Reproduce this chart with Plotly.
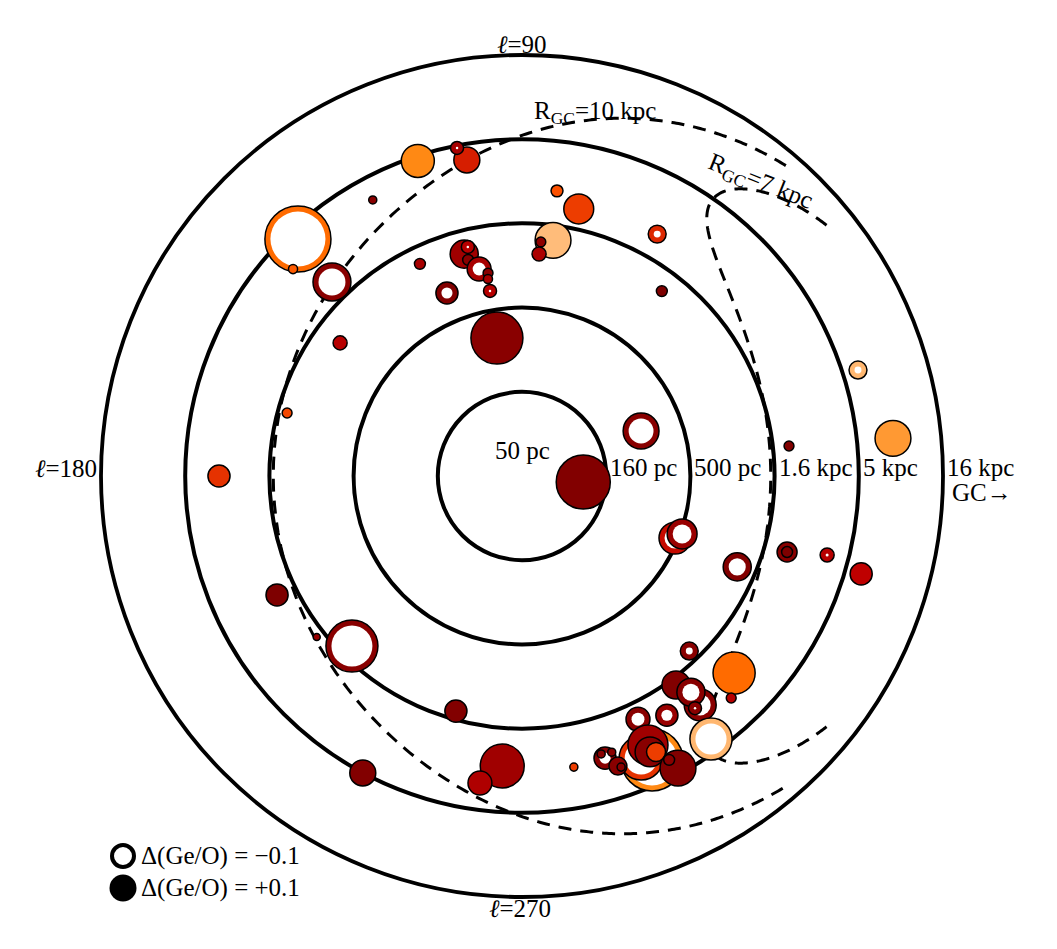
import numpy as np
import plotly.graph_objects as go

# ---------------- data ----------------
# galactic longitude (deg), heliocentric distance (pc), Delta(Ge/O) (signed), colour value (0-1 on gist_heat)
glon = [99.9, 101.2, 108.3, 118.4, 83.0, 78.0, 82.5, 85.4, 85.6, 133.4, 137.9, 134.4,
        104.6, 103.3, 104.0, 101.7, 99.5, 99.8, 115.7, 112.3, 99.8, 100.3, 60.8, 52.9,
        143.8, 165.0, 180.0, 205.9, 218.1, 225.0, 254.3, 241.8, 266.1, 262.2, 280.1,
        354.4, 20.7, 337.9, 340.1, 337.1, 344.0, 344.0, 345.5, 343.9, 6.4, 5.8, 17.5,
        313.7, 317.1, 313.3, 306.4, 307.9, 308.0, 306.7, 305.7, 295.5, 301.2,
        294.6, 292.9, 295.1, 294.9, 295.9, 298.1, 297.4, 286.4, 285.9, 288.0, 288.3, 288.8]
dist_pc = [4020, 4840, 4670, 3650, 2540, 2090, 1290, 1240, 1050, 4320, 3400, 2050,
           1150, 1250, 1050, 900, 833, 770, 1250, 747, 652, 340, 2210, 1190,
           1090, 1390, 3150, 2070, 1770, 1340, 1410, 5010, 2660, 3460, 2850,
           116, 285, 478, 513, 1220, 2170, 2170, 3720, 6240, 1970, 8190, 6180,
           1370, 2620, 3240, 1740, 2640, 2130, 2620, 4190, 1990, 2290,
           3580, 3290, 2900, 3200, 3320, 4630, 3960, 2790, 2600, 2650, 3260, 3350]
dgeo = [0.100, -0.050, 0.127, 0.031, 0.046, 0.115, 0.138, 0.038, 0.054, -0.254, 0.035, -0.146,
        0.108, -0.050, 0.042, -0.092, 0.038, 0.035, 0.042, -0.085, -0.050, 0.200, -0.069, 0.042,
        0.054, 0.038, 0.085, 0.085, 0.027, -0.200, 0.085, 0.100, 0.169, 0.092, 0.031,
        0.208, -0.138, -0.123, -0.115, -0.108, 0.077, 0.042, -0.054, 0.085, 0.038, 0.138, -0.069,
        -0.069, 0.162, 0.038, 0.108, -0.123, -0.108, -0.050, -0.162, -0.092, -0.085,
        -0.238, -0.169, 0.154, 0.115, 0.073, 0.138, 0.042, -0.085, 0.031, 0.031, 0.069, 0.031]
cval = [0.56, 0.44, 0.77, 0.36, 0.66, 0.62, 0.87, 0.37, 0.45, 0.71, 0.68, 0.36,
        0.42, 0.48, 0.36, 0.44, 0.36, 0.44, 0.44, 0.34, 0.48, 0.36, 0.58, 0.33,
        0.48, 0.64, 0.60, 0.33, 0.40, 0.36, 0.34, 0.34, 0.42, 0.46, 0.62,
        0.34, 0.36, 0.52, 0.40, 0.34, 0.36, 0.33, 0.48, 0.50, 0.34, 0.80, 0.86,
        0.36, 0.71, 0.48, 0.34, 0.36, 0.36, 0.36, 0.86, 0.36, 0.40,
        0.77, 0.60, 0.42, 0.36, 0.62, 0.34, 0.36, 0.36, 0.36, 0.36, 0.36, 0.36]

ring_pc = [158.1, 500, 1581, 5000]
ring_labels = ["160 pc", "500 pc", "1.6 kpc", "5 kpc", "16 kpc"]
R0_kpc = 8.5
rgc_kpc = [10, 7]

# ---------------- geometry / styling ----------------
W, H = 1057, 949
CX, CY, RAD = 522, 476, 421          # pixel centre / outer radius of the polar frame
PX_PER_DEX = RAD / 2.5
SIZE_SCALE = 260                     # marker diameter (px) per unit |Delta(Ge/O)|
FONT = "Liberation Serif, Times New Roman, DejaVu Serif, serif"
FS = 25


def gist_heat(v):
    r = min(1.0, 1.5 * v)
    g = min(1.0, max(0.0, 2 * v - 1))
    b = min(1.0, max(0.0, 4 * v - 3))
    return f"rgb({int(r*255)},{int(g*255)},{int(b*255)})"


rr, tt, ss, cc, lw = [], [], [], [], []
for l, d, dg, v in zip(glon, dist_pc, dgeo, cval):
    s = SIZE_SCALE * abs(dg)
    rr.append(d); tt.append(l); ss.append(s); cc.append(gist_heat(v)); lw.append(1.5)
    if dg < 0:
        rr.append(d); tt.append(l); ss.append(max(s - 11, 2.5)); cc.append("white"); lw.append(0)

fig = go.Figure()

# galactocentric radius curves (Sun-side half of each circle)
for R in rgc_kpc:
    phi = np.radians(np.linspace(90, 270, 361))
    X = R * np.cos(phi) + R0_kpc
    Y = R * np.sin(phi)
    fig.add_trace(go.Scatterpolar(
        r=np.hypot(X, Y) * 1000, theta=np.degrees(np.arctan2(Y, X)),
        mode="lines", line=dict(color="black", width=3, dash="13px,9px"),
        hoverinfo="skip", showlegend=False))

fig.add_trace(go.Scatterpolar(
    r=rr, theta=tt, mode="markers",
    marker=dict(size=ss, color=cc, opacity=1, line=dict(color="black", width=lw)),
    hoverinfo="skip", showlegend=False))

# centre cross
fig.add_trace(go.Scatterpolar(
    r=[50], theta=[0], mode="markers",
    marker=dict(symbol="cross-thin", size=17, opacity=1, line=dict(color="black", width=4)),
    hoverinfo="skip", showlegend=False))


def px(x):
    return x / W


def py(y):
    return 1 - y / H


ann = []


def add_text(text, x, y, xanchor="center", size=FS, angle=0):
    ann.append(dict(text=text, x=px(x), y=py(y), xref="paper", yref="paper",
                    xanchor=xanchor, yanchor="middle", showarrow=False, textangle=angle,
                    font=dict(family=FONT, size=size, color="black")))


add_text("<i>ℓ</i>=90", 522, 45)
add_text("<i>ℓ</i>=270", 520, 908)
add_text("<i>ℓ</i>=180", 66, 468)
add_text("50 pc", 522, 450)
for k, lab in enumerate(ring_labels):
    rpx = PX_PER_DEX * 0.5 * (k + 1)
    add_text(lab, CX + rpx + 2, 467, xanchor="left")
add_text("GC→", 982, 492)
add_text("R<sub>GC</sub>=10 kpc", 595, 113)
add_text("R<sub>GC</sub>=7 kpc", 760, 183, angle=22)
add_text("Δ(Ge/O) = −0.1", 139, 856, xanchor="left")
add_text("Δ(Ge/O) = +0.1", 139, 888, xanchor="left")

shapes = [
    dict(type="circle", xref="paper", yref="paper", xsizemode="pixel", ysizemode="pixel",
         xanchor=px(123), yanchor=py(856), x0=-11, x1=11, y0=-11, y1=11,
         line=dict(color="black", width=4), fillcolor="white"),
    dict(type="circle", xref="paper", yref="paper", xsizemode="pixel", ysizemode="pixel",
         xanchor=px(123), yanchor=py(888), x0=-13.5, x1=13.5, y0=-13.5, y1=13.5,
         line=dict(color="black", width=0), fillcolor="black"),
]

fig.update_layout(
    width=W, height=H, margin=dict(l=0, r=0, t=0, b=0),
    paper_bgcolor="white", plot_bgcolor="white",
    polar=dict(
        domain=dict(x=[(CX - RAD) / W, (CX + RAD) / W], y=[1 - (CY + RAD) / H, 1 - (CY - RAD) / H]),
        bgcolor="white",
        radialaxis=dict(type="log", range=[np.log10(50), np.log10(50) + 2.5],
                        tickvals=ring_pc, showticklabels=False, ticks="", showline=False,
                        showgrid=True, gridcolor="black", gridwidth=3.8, angle=0),
        angularaxis=dict(rotation=0, direction="counterclockwise", showgrid=False,
                         showticklabels=False, ticks="", showline=True,
                         linecolor="black", linewidth=3.8),
    ),
    annotations=ann, shapes=shapes,
)

fig.write_html("out.html")
